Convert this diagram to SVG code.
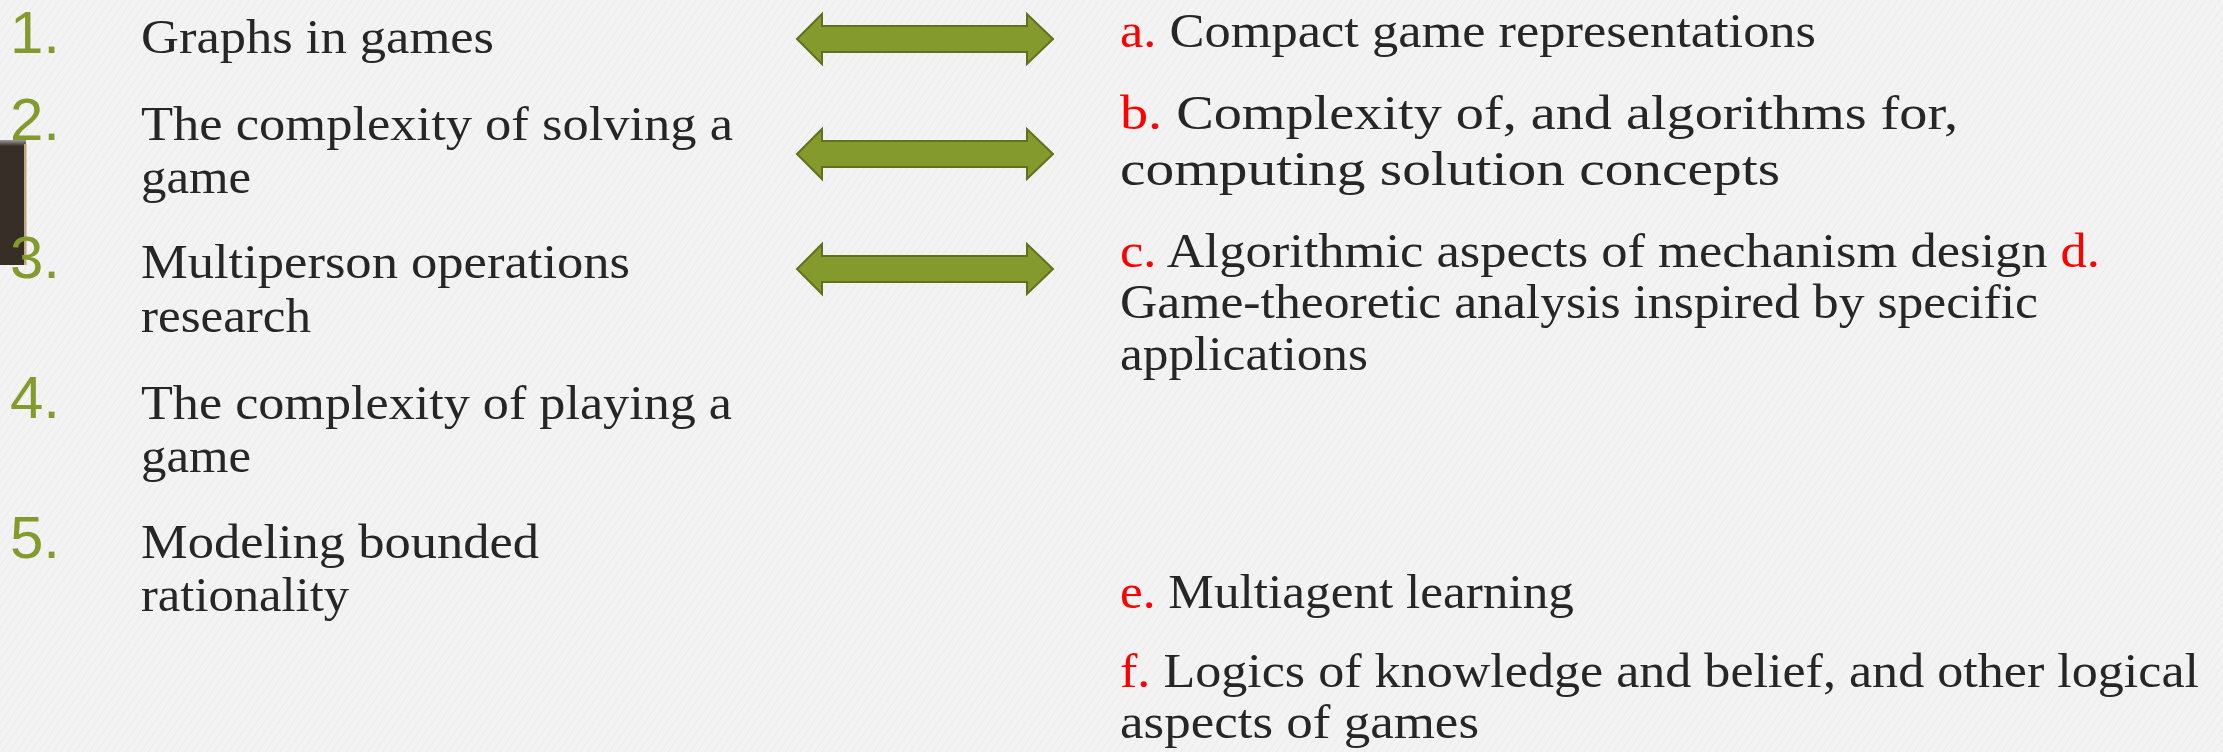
<svg xmlns="http://www.w3.org/2000/svg" width="2223" height="752" viewBox="0 0 2223 752">
  <defs>
    <pattern id="tex" width="6" height="6" patternUnits="userSpaceOnUse" patternTransform="rotate(35)">
      <rect width="6" height="6" fill="#f3f3f3"/>
      <line x1="0" y1="0" x2="0" y2="6" stroke="#e6e6e6" stroke-width="1.2"/>
    </pattern>
    <linearGradient id="topShade" x1="0" y1="0" x2="0" y2="1">
      <stop offset="0" stop-color="#9a9a9a"/>
      <stop offset="1" stop-color="#3a322b"/>
    </linearGradient>
    <polygon id="dblArrow" points="797,0 822,-25 822,-13 1027,-13 1027,-25 1053,0 1027,25 1027,13 822,13 822,25"/>
  </defs>
  <style>
    .num { font-family: "Liberation Sans", Arial, sans-serif; font-size: 60px; fill: #829b2c; }
    .txt { font-family: "Liberation Serif", "Times New Roman", serif; font-size: 48px; fill: #262626; }
    .lbl { fill: #ff0000; }
    .arrow { fill: #849a2d; stroke: #5f711d; stroke-width: 2; stroke-linejoin: miter; }
  </style>

  <rect x="0" y="0" width="2223" height="752" fill="url(#tex)"/>

  <g id="side-bar">
    <rect x="0" y="140" width="26" height="125" fill="#362e27"/>
    <rect x="0" y="140" width="26" height="6" fill="url(#topShade)"/>
    <rect x="24" y="144" width="2.5" height="121" fill="#bfa57e"/>
  </g>

  <g id="left-1">
    <text class="num" x="10" y="53">1.</text>
    <text class="txt" x="141" y="53" textLength="353" lengthAdjust="spacingAndGlyphs">Graphs in games</text>
  </g>
  <g id="left-2">
    <text class="num" x="10" y="140">2.</text>
    <text class="txt" x="141" y="140" textLength="592" lengthAdjust="spacingAndGlyphs">The complexity of solving a</text>
    <text class="txt" x="141" y="193" textLength="110" lengthAdjust="spacingAndGlyphs">game</text>
  </g>
  <g id="left-3">
    <text class="num" x="10" y="278">3.</text>
    <text class="txt" x="141" y="278" textLength="489" lengthAdjust="spacingAndGlyphs">Multiperson operations</text>
    <text class="txt" x="141" y="332" textLength="170" lengthAdjust="spacingAndGlyphs">research</text>
  </g>
  <g id="left-4">
    <text class="num" x="10" y="418">4.</text>
    <text class="txt" x="141" y="419" textLength="591" lengthAdjust="spacingAndGlyphs">The complexity of playing a</text>
    <text class="txt" x="141" y="472" textLength="110" lengthAdjust="spacingAndGlyphs">game</text>
  </g>
  <g id="left-5">
    <text class="num" x="10" y="558">5.</text>
    <text class="txt" x="141" y="558" textLength="398" lengthAdjust="spacingAndGlyphs">Modeling bounded</text>
    <text class="txt" x="141" y="611" textLength="208" lengthAdjust="spacingAndGlyphs">rationality</text>
  </g>

  <g id="connectors">
    <use href="#dblArrow" class="arrow" transform="translate(0,39)"/>
    <use href="#dblArrow" class="arrow" transform="translate(0,154)"/>
    <use href="#dblArrow" class="arrow" transform="translate(0,269)"/>
  </g>

  <g id="right-a">
    <text class="txt" x="1120" y="47" textLength="696" lengthAdjust="spacingAndGlyphs"><tspan class="lbl">a.</tspan> Compact game representations</text>
  </g>
  <g id="right-b">
    <text class="txt" x="1120" y="129" textLength="838" lengthAdjust="spacingAndGlyphs"><tspan class="lbl">b.</tspan> Complexity of, and algorithms for,</text>
    <text class="txt" x="1120" y="185" textLength="660" lengthAdjust="spacingAndGlyphs">computing solution concepts</text>
  </g>
  <g id="right-cd">
    <text class="txt" x="1120" y="267" textLength="980" lengthAdjust="spacingAndGlyphs"><tspan class="lbl">c.</tspan> Algorithmic aspects of mechanism design <tspan class="lbl">d.</tspan></text>
    <text class="txt" x="1120" y="318" textLength="918" lengthAdjust="spacingAndGlyphs">Game-theoretic analysis inspired by specific</text>
    <text class="txt" x="1120" y="370" textLength="248" lengthAdjust="spacingAndGlyphs">applications</text>
  </g>
  <g id="right-e">
    <text class="txt" x="1120" y="608" textLength="454" lengthAdjust="spacingAndGlyphs"><tspan class="lbl">e.</tspan> Multiagent learning</text>
  </g>
  <g id="right-f">
    <text class="txt" x="1120" y="687" textLength="1079" lengthAdjust="spacingAndGlyphs"><tspan class="lbl">f.</tspan> Logics of knowledge and belief, and other logical</text>
    <text class="txt" x="1120" y="738" textLength="359" lengthAdjust="spacingAndGlyphs">aspects of games</text>
  </g>
</svg>
